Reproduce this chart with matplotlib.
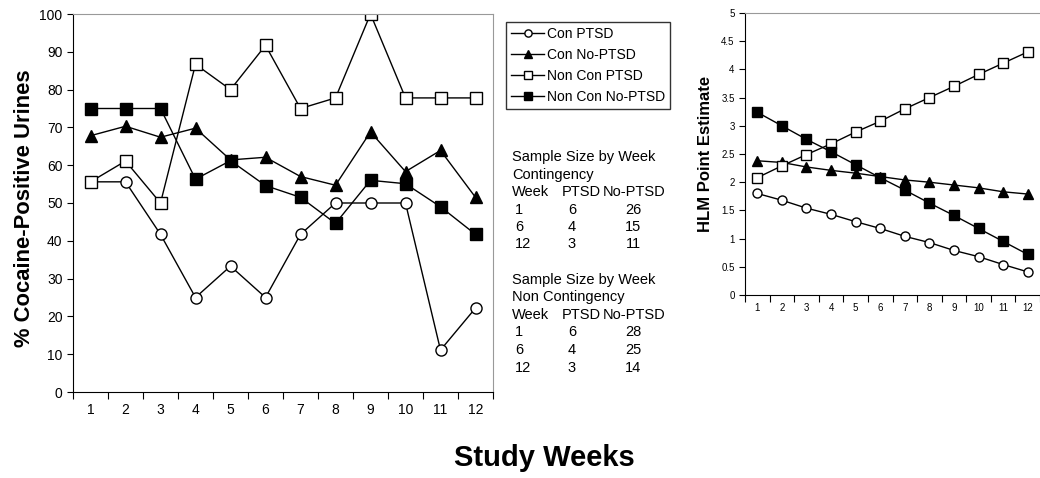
import matplotlib
matplotlib.use("Agg")
import matplotlib.pyplot as plt
import numpy as np

plt.rcParams['font.family'] = ['Liberation Sans', 'DejaVu Sans']

weeks = list(range(1, 13))
week_labels = [str(w) for w in weeks]

# Left panel: % cocaine-positive urines
con_ptsd = [55.6, 55.6, 41.7, 25.0, 33.3, 25.0, 41.7, 50.0, 50.0, 50.0, 11.1, 22.2]
con_noptsd = [67.8, 70.3, 67.4, 69.8, 61.4, 62.1, 57.0, 54.7, 68.8, 58.3, 63.9, 51.5]
noncon_ptsd = [55.6, 61.1, 50.0, 86.7, 80.0, 91.7, 75.0, 77.8, 100.0, 77.8, 77.8, 77.8]
noncon_noptsd = [75.0, 75.0, 75.0, 56.3, 61.2, 54.6, 51.5, 44.6, 56.0, 55.1, 49.0, 41.7]

# Right panel: HLM point estimates
hlm_con_ptsd = [1.80, 1.68, 1.54, 1.43, 1.30, 1.18, 1.04, 0.93, 0.79, 0.68, 0.54, 0.41]
hlm_con_noptsd = [2.38, 2.35, 2.27, 2.21, 2.16, 2.10, 2.04, 2.00, 1.95, 1.90, 1.83, 1.79]
hlm_noncon_ptsd = [2.08, 2.29, 2.49, 2.68, 2.89, 3.08, 3.30, 3.50, 3.70, 3.91, 4.11, 4.31]
hlm_noncon_noptsd = [3.24, 3.00, 2.76, 2.54, 2.31, 2.08, 1.86, 1.63, 1.41, 1.18, 0.95, 0.72]

series_labels = ['Con PTSD', 'Con No-PTSD', 'Non Con PTSD', 'Non Con No-PTSD']

table_header = ['Week', 'PTSD', 'No-PTSD']
table_weeks = ['1', '6', '12']
con_ptsd_n = ['6', '4', '3']
con_noptsd_n = ['26', '15', '11']
noncon_ptsd_n = ['6', '4', '3']
noncon_noptsd_n = ['28', '25', '14']

fig = plt.figure(figsize=(10.4, 4.78), dpi=100)

styles = [
    dict(marker='o', mfc='white', mec='black'),
    dict(marker='^', mfc='black', mec='black'),
    dict(marker='s', mfc='white', mec='black'),
    dict(marker='s', mfc='black', mec='black'),
]

def style_axes(ax, xmax):
    ax.spines['top'].set_color('#999999')
    ax.spines['right'].set_color('#999999')
    for s in ['left', 'bottom']:
        ax.spines[s].set_color('black')
    ax.set_xlim(0.5, xmax)
    ax.set_xticks(np.arange(0.5, 13.0, 1.0))
    ax.set_xticklabels([])
    ax.set_xticks(weeks, minor=True)
    ax.tick_params(axis='x', which='minor', length=0)
    ax.tick_params(axis='x', which='major', direction='out', length=5, color='black')
    ax.tick_params(axis='y', direction='out', length=4, color='black')

# Left axes
ax1 = fig.add_axes([73/1040, 1 - 392/478, (493-73)/1040, (392-14)/478])
data_left = [con_ptsd, con_noptsd, noncon_ptsd, noncon_noptsd]
handles = []
for d, st, lab in zip(data_left, styles, series_labels):
    h, = ax1.plot(weeks, d, color='black', lw=1, ms=8, mew=1, label=lab, **st)
    handles.append(h)
style_axes(ax1, 12.5)
ax1.set_ylim(0, 100)
ax1.set_yticks(np.arange(0, 101, 10))
ax1.set_xticklabels(week_labels, minor=True)
ax1.tick_params(axis='both', which='both', labelsize=10)
ax1.tick_params(axis='x', which='minor', pad=8)
ax1.set_ylabel('% Cocaine-Positive Urines', fontsize=15.8, fontweight='bold')
ax1.yaxis.set_label_coords(-38/420, 0.485)

# Right axes
ax2 = fig.add_axes([745/1040, 1 - 295/478, (1040-745)/1040, (295-13)/478])
data_right = [hlm_con_ptsd, hlm_con_noptsd, hlm_noncon_ptsd, hlm_noncon_noptsd]
for d, st in zip(data_right, styles):
    ax2.plot(weeks, d, color='black', lw=1, ms=6.5, mew=1, **st)
style_axes(ax2, 12.3)
ax2.spines['right'].set_visible(False)
ax2.set_ylim(0, 5)
ax2.set_yticks(np.arange(0, 5.01, 0.5))
ax2.set_yticklabels(['0', '0.5', '1', '1.5', '2', '2.5', '3', '3.5', '4', '4.5', '5'])
ax2.set_xticklabels(week_labels, minor=True)
ax2.tick_params(axis='both', which='both', labelsize=7)
ax2.tick_params(axis='x', which='minor', pad=6)
ax2.set_ylabel('HLM Point Estimate', fontsize=12, fontweight='bold')
ax2.yaxis.set_label_coords(-32/295, 0.5)

# Legend
leg = fig.legend(handles=handles, loc='upper left', bbox_to_anchor=(506/1040, 1 - 22/478),
                 frameon=True, fancybox=False, edgecolor='black', fontsize=10,
                 handlelength=2.4, handletextpad=0.2, labelspacing=0.5,
                 borderpad=0.35, borderaxespad=0, markerscale=0.65)
leg.get_frame().set_linewidth(1)

# Sample size tables
def table(y0, title2, ptsd_n, noptsd_n):
    fs = 10.5
    dy = 17.5
    fig.text(512/1040, 1 - y0/478, 'Sample Size by Week', fontsize=fs, va='center', ha='left')
    fig.text(512/1040, 1 - (y0 + dy)/478, title2, fontsize=fs, va='center', ha='left')
    y = y0 + 2*dy
    fig.text(512/1040, 1 - y/478, table_header[0], fontsize=fs, va='center', ha='left')
    fig.text(562/1040, 1 - y/478, table_header[1], fontsize=fs, va='center', ha='left')
    fig.text(603/1040, 1 - y/478, table_header[2], fontsize=fs, va='center', ha='left')
    for i in range(3):
        yy = y + (i + 1) * dy
        fig.text(515/1040, 1 - yy/478, table_weeks[i], fontsize=fs, va='center', ha='left')
        fig.text(572/1040, 1 - yy/478, ptsd_n[i], fontsize=fs, va='center', ha='center')
        fig.text(633/1040, 1 - yy/478, noptsd_n[i], fontsize=fs, va='center', ha='center')

table(157, 'Contingency', con_ptsd_n, con_noptsd_n)
table(280, 'Non Contingency', noncon_ptsd_n, noncon_noptsd_n)

fig.text(544/1040, 1 - 458/478, 'Study Weeks', fontsize=21, fontweight='bold', ha='center', va='center')

fig.savefig('out.png', dpi=100)
